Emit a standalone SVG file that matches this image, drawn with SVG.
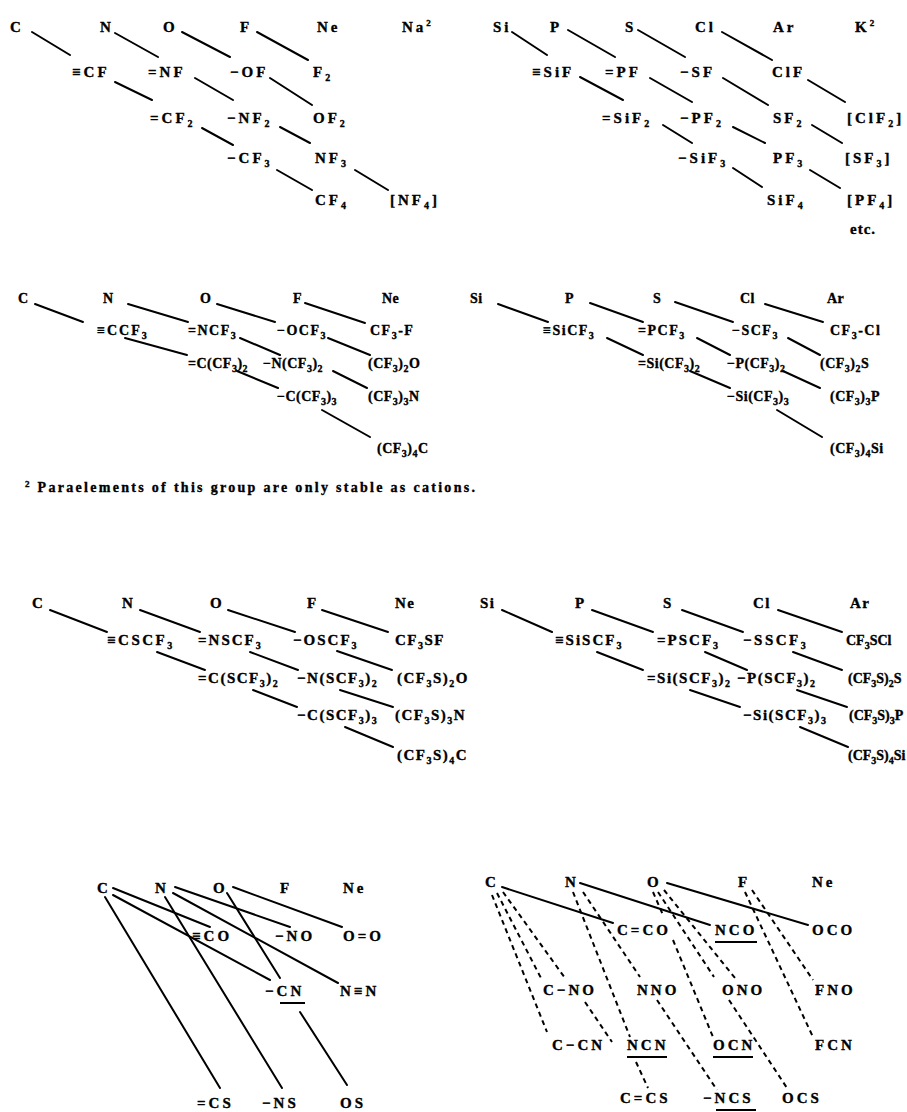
<svg xmlns="http://www.w3.org/2000/svg" width="907" height="1112" viewBox="0 0 907 1112">
<style>
text{font-family:"Liberation Serif","DejaVu Serif",serif;font-weight:bold;fill:#000;stroke:#000;stroke-width:0.35px}
.t1{font-size:15px;letter-spacing:3px}
.t2{font-size:14px;letter-spacing:0.5px}
.t3{font-size:15px;letter-spacing:1.5px}
.t3n{font-size:14px;letter-spacing:0px}
.t4{font-size:15px;letter-spacing:3px}
.fn{font-size:14px}
.b{font-size:10px}
.p{font-size:9px}
.ln{stroke:#000;stroke-width:2;fill:none;stroke-linecap:round}
.ds{stroke:#000;stroke-width:2;fill:none;stroke-dasharray:5 4}
.ul{stroke:#000;stroke-width:2}
</style>
<rect width="907" height="1112" fill="#fff"/>

<g id="connectors">
<line class="ln" x1="32" y1="32" x2="70" y2="55"/>
<line class="ln" x1="115" y1="33" x2="158" y2="57"/>
<line class="ln" x1="182" y1="32" x2="230" y2="57"/>
<line class="ln" x1="257" y1="32" x2="308" y2="60"/>
<line class="ln" x1="115" y1="82" x2="152" y2="100"/>
<line class="ln" x1="195" y1="78" x2="233" y2="100"/>
<line class="ln" x1="270" y1="78" x2="312" y2="105"/>
<line class="ln" x1="202" y1="128" x2="233" y2="145"/>
<line class="ln" x1="280" y1="127" x2="310" y2="143"/>
<line class="ln" x1="277" y1="170" x2="312" y2="190"/>
<line class="ln" x1="355" y1="170" x2="388" y2="190"/>
<line class="ln" x1="512" y1="32" x2="547" y2="55"/>
<line class="ln" x1="568" y1="30" x2="615" y2="57"/>
<line class="ln" x1="638" y1="30" x2="685" y2="57"/>
<line class="ln" x1="722" y1="32" x2="772" y2="60"/>
<line class="ln" x1="580" y1="77" x2="623" y2="100"/>
<line class="ln" x1="650" y1="78" x2="692" y2="102"/>
<line class="ln" x1="723" y1="78" x2="768" y2="105"/>
<line class="ln" x1="808" y1="80" x2="845" y2="102"/>
<line class="ln" x1="663" y1="125" x2="692" y2="143"/>
<line class="ln" x1="733" y1="127" x2="765" y2="143"/>
<line class="ln" x1="812" y1="125" x2="842" y2="143"/>
<line class="ln" x1="733" y1="168" x2="762" y2="187"/>
<line class="ln" x1="810" y1="170" x2="840" y2="188"/>
<line class="ln" x1="35" y1="304" x2="83" y2="322"/>
<line class="ln" x1="128" y1="304" x2="188" y2="322"/>
<line class="ln" x1="217" y1="304" x2="275" y2="322"/>
<line class="ln" x1="305" y1="303" x2="365" y2="323"/>
<line class="ln" x1="125" y1="338" x2="187" y2="355"/>
<line class="ln" x1="240" y1="338" x2="280" y2="355"/>
<line class="ln" x1="328" y1="338" x2="370" y2="355"/>
<line class="ln" x1="237" y1="371" x2="278" y2="388"/>
<line class="ln" x1="333" y1="371" x2="367" y2="388"/>
<line class="ln" x1="322" y1="410" x2="370" y2="437"/>
<line class="ln" x1="498" y1="304" x2="548" y2="322"/>
<line class="ln" x1="590" y1="303" x2="643" y2="322"/>
<line class="ln" x1="675" y1="302" x2="733" y2="322"/>
<line class="ln" x1="765" y1="304" x2="823" y2="322"/>
<line class="ln" x1="607" y1="338" x2="643" y2="355"/>
<line class="ln" x1="697" y1="338" x2="730" y2="355"/>
<line class="ln" x1="788" y1="338" x2="820" y2="355"/>
<line class="ln" x1="690" y1="371" x2="730" y2="388"/>
<line class="ln" x1="783" y1="371" x2="820" y2="388"/>
<line class="ln" x1="777" y1="410" x2="822" y2="437"/>
<line class="ln" x1="50" y1="610" x2="107" y2="632"/>
<line class="ln" x1="140" y1="610" x2="200" y2="632"/>
<line class="ln" x1="228" y1="610" x2="295" y2="632"/>
<line class="ln" x1="322" y1="610" x2="388" y2="632"/>
<line class="ln" x1="157" y1="652" x2="205" y2="670"/>
<line class="ln" x1="250" y1="652" x2="298" y2="670"/>
<line class="ln" x1="337" y1="651" x2="392" y2="670"/>
<line class="ln" x1="253" y1="690" x2="297" y2="707"/>
<line class="ln" x1="340" y1="690" x2="393" y2="707"/>
<line class="ln" x1="345" y1="727" x2="393" y2="747"/>
<line class="ln" x1="502" y1="610" x2="552" y2="632"/>
<line class="ln" x1="592" y1="610" x2="653" y2="632"/>
<line class="ln" x1="682" y1="610" x2="743" y2="632"/>
<line class="ln" x1="778" y1="610" x2="842" y2="632"/>
<line class="ln" x1="597" y1="652" x2="643" y2="670"/>
<line class="ln" x1="705" y1="652" x2="747" y2="670"/>
<line class="ln" x1="793" y1="652" x2="842" y2="670"/>
<line class="ln" x1="690" y1="690" x2="740" y2="707"/>
<line class="ln" x1="797" y1="690" x2="847" y2="707"/>
<line class="ln" x1="800" y1="727" x2="848" y2="747"/>
<line class="ln" x1="113" y1="888" x2="210" y2="927"/>
<line class="ln" x1="113" y1="895" x2="270" y2="980"/>
<line class="ln" x1="105" y1="897" x2="220" y2="1088"/>
<line class="ln" x1="175" y1="887" x2="290" y2="927"/>
<line class="ln" x1="173" y1="893" x2="338" y2="983"/>
<line class="ln" x1="165" y1="897" x2="282" y2="1088"/>
<line class="ln" x1="227" y1="893" x2="280" y2="978"/>
<line class="ln" x1="233" y1="887" x2="342" y2="927"/>
<line class="ln" x1="300" y1="1012" x2="347" y2="1085"/>
<line class="ln" x1="502" y1="887" x2="613" y2="923"/>
<line class="ln" x1="580" y1="883" x2="710" y2="925"/>
<line class="ln" x1="667" y1="883" x2="808" y2="925"/>
<line class="ds" x1="492" y1="895" x2="547" y2="1032"/>
<line class="ds" x1="497" y1="893" x2="542" y2="980"/>
<line class="ds" x1="503" y1="892" x2="565" y2="978"/>
<line class="ds" x1="585" y1="1002" x2="612" y2="1042"/>
<line class="ds" x1="573" y1="892" x2="630" y2="1037"/>
<line class="ds" x1="636" y1="1062" x2="648" y2="1088"/>
<line class="ds" x1="583" y1="892" x2="640" y2="977"/>
<line class="ds" x1="657" y1="1000" x2="717" y2="1090"/>
<line class="ds" x1="653" y1="892" x2="663" y2="915"/>
<line class="ds" x1="673" y1="940" x2="713" y2="1037"/>
<line class="ds" x1="658" y1="892" x2="714" y2="977"/>
<line class="ds" x1="729" y1="1000" x2="787" y2="1088"/>
<line class="ds" x1="664" y1="890" x2="735" y2="978"/>
<line class="ds" x1="752" y1="890" x2="813" y2="980"/>
<line class="ds" x1="745" y1="892" x2="813" y2="1037"/>
</g>

<g id="b1-C"><text class="t1" x="10" y="32">C</text></g>
<g id="b1-N"><text class="t1" x="100" y="32">N</text></g>
<g id="b1-O"><text class="t1" x="163" y="32">O</text></g>
<g id="b1-F"><text class="t1" x="240" y="32">F</text></g>
<g id="b1-Ne"><text class="t1" x="317" y="32">Ne</text></g>
<g id="b1-Na"><text class="t1" x="402" y="32">Na<tspan class="p" dy="-6">2</tspan></text></g>
<g id="b1-CF"><text class="t1" x="72" y="77">≡CF</text></g>
<g id="b1-NF"><text class="t1" x="148" y="77">=NF</text></g>
<g id="b1-OF"><text class="t1" x="230" y="77">−OF</text></g>
<g id="b1-F2"><text class="t1" x="313" y="77">F<tspan class="b" dy="4">2</tspan></text></g>
<g id="b1-CF2"><text class="t1" x="150" y="123">=CF<tspan class="b" dy="4">2</tspan></text></g>
<g id="b1-NF2"><text class="t1" x="227" y="123">−NF<tspan class="b" dy="4">2</tspan></text></g>
<g id="b1-OF2"><text class="t1" x="313" y="123">OF<tspan class="b" dy="4">2</tspan></text></g>
<g id="b1-CF3"><text class="t1" x="227" y="163">−CF<tspan class="b" dy="4">3</tspan></text></g>
<g id="b1-NF3"><text class="t1" x="315" y="163">NF<tspan class="b" dy="4">3</tspan></text></g>
<g id="b1-CF4"><text class="t1" x="315" y="205">CF<tspan class="b" dy="4">4</tspan></text></g>
<g id="b1-NF4"><text class="t1" x="390" y="205">[NF<tspan class="b" dy="4">4</tspan><tspan dy="-4">]</tspan></text></g>

<g id="b1-Si"><text class="t1" x="493" y="32">Si</text></g>
<g id="b1-P"><text class="t1" x="550" y="32">P</text></g>
<g id="b1-S"><text class="t1" x="625" y="32">S</text></g>
<g id="b1-Cl"><text class="t1" x="695" y="32">Cl</text></g>
<g id="b1-Ar"><text class="t1" x="773" y="32">Ar</text></g>
<g id="b1-K"><text class="t1" x="855" y="32">K<tspan class="p" dy="-6">2</tspan></text></g>
<g id="b1-SiF"><text class="t1" x="532" y="77">≡SiF</text></g>
<g id="b1-PF"><text class="t1" x="605" y="77">=PF</text></g>
<g id="b1-SF"><text class="t1" x="680" y="77">−SF</text></g>
<g id="b1-ClF"><text class="t1" x="772" y="77">ClF</text></g>
<g id="b1-SiF2"><text class="t1" x="602" y="123">=SiF<tspan class="b" dy="4">2</tspan></text></g>
<g id="b1-PF2"><text class="t1" x="680" y="123">−PF<tspan class="b" dy="4">2</tspan></text></g>
<g id="b1-SF2"><text class="t1" x="773" y="123">SF<tspan class="b" dy="4">2</tspan></text></g>
<g id="b1-ClF2"><text class="t1" x="847" y="123">[ClF<tspan class="b" dy="4">2</tspan><tspan dy="-4">]</tspan></text></g>
<g id="b1-SiF3"><text class="t1" x="678" y="163">−SiF<tspan class="b" dy="4">3</tspan></text></g>
<g id="b1-PF3"><text class="t1" x="773" y="163">PF<tspan class="b" dy="4">3</tspan></text></g>
<g id="b1-SF3"><text class="t1" x="845" y="163">[SF<tspan class="b" dy="4">3</tspan><tspan dy="-4">]</tspan></text></g>
<g id="b1-SiF4"><text class="t1" x="767" y="205">SiF<tspan class="b" dy="4">4</tspan></text></g>
<g id="b1-PF4"><text class="t1" x="847" y="205">[PF<tspan class="b" dy="4">4</tspan><tspan dy="-4">]</tspan></text></g>
<g id="b1-etc"><text class="t1" x="850" y="234" style="letter-spacing:1px">etc.</text></g>

<g id="b2-C"><text class="t2" x="18" y="303">C</text></g>
<g id="b2-N"><text class="t2" x="103" y="303">N</text></g>
<g id="b2-O"><text class="t2" x="200" y="303">O</text></g>
<g id="b2-F"><text class="t2" x="293" y="303">F</text></g>
<g id="b2-Ne"><text class="t2" x="382" y="303">Ne</text></g>
<g id="b2-CCF3"><text class="t2" x="97" y="335" style="letter-spacing:2px">≡CCF<tspan class="b" dy="4">3</tspan></text></g>
<g id="b2-NCF3"><text class="t2" x="188" y="335" style="letter-spacing:1.5px">=NCF<tspan class="b" dy="4">3</tspan></text></g>
<g id="b2-OCF3"><text class="t2" x="277" y="335" style="letter-spacing:1.5px">−OCF<tspan class="b" dy="4">3</tspan></text></g>
<g id="b2-CF3F"><text class="t2" x="370" y="335" style="letter-spacing:1.5px">CF<tspan class="b" dy="4">3</tspan><tspan dy="-4">-F</tspan></text></g>
<g id="b2-CCF32"><text class="t2" x="188" y="368">=C(CF<tspan class="b" dy="4">3</tspan><tspan dy="-4">)</tspan><tspan class="b" dy="4">2</tspan></text></g>
<g id="b2-NCF32"><text class="t2" x="263" y="368">−N(CF<tspan class="b" dy="4">3</tspan><tspan dy="-4">)</tspan><tspan class="b" dy="4">2</tspan></text></g>
<g id="b2-CF32O"><text class="t2" x="368" y="368">(CF<tspan class="b" dy="4">3</tspan><tspan dy="-4">)</tspan><tspan class="b" dy="4">2</tspan><tspan dy="-4">O</tspan></text></g>
<g id="b2-CCF33"><text class="t2" x="277" y="401">−C(CF<tspan class="b" dy="4">3</tspan><tspan dy="-4">)</tspan><tspan class="b" dy="4">3</tspan></text></g>
<g id="b2-CF33N"><text class="t2" x="368" y="401">(CF<tspan class="b" dy="4">3</tspan><tspan dy="-4">)</tspan><tspan class="b" dy="4">3</tspan><tspan dy="-4">N</tspan></text></g>
<g id="b2-CF34C"><text class="t2" x="377" y="453">(CF<tspan class="b" dy="4">3</tspan><tspan dy="-4">)</tspan><tspan class="b" dy="4">4</tspan><tspan dy="-4">C</tspan></text></g>

<g id="b2-Si"><text class="t2" x="470" y="303">Si</text></g>
<g id="b2-P"><text class="t2" x="565" y="303">P</text></g>
<g id="b2-S"><text class="t2" x="653" y="303">S</text></g>
<g id="b2-Cl"><text class="t2" x="740" y="303">Cl</text></g>
<g id="b2-Ar"><text class="t2" x="827" y="303">Ar</text></g>
<g id="b2-SiCF3"><text class="t2" x="543" y="335" style="letter-spacing:1.5px">≡SiCF<tspan class="b" dy="4">3</tspan></text></g>
<g id="b2-PCF3"><text class="t2" x="638" y="335" style="letter-spacing:1.5px">=PCF<tspan class="b" dy="4">3</tspan></text></g>
<g id="b2-SCF3"><text class="t2" x="732" y="335" style="letter-spacing:1.5px">−SCF<tspan class="b" dy="4">3</tspan></text></g>
<g id="b2-CF3Cl"><text class="t2" x="830" y="335" style="letter-spacing:1.5px">CF<tspan class="b" dy="4">3</tspan><tspan dy="-4">-Cl</tspan></text></g>
<g id="b2-SiCF32"><text class="t2" x="638" y="368">=Si(CF<tspan class="b" dy="4">3</tspan><tspan dy="-4">)</tspan><tspan class="b" dy="4">2</tspan></text></g>
<g id="b2-PCF32"><text class="t2" x="727" y="368">−P(CF<tspan class="b" dy="4">3</tspan><tspan dy="-4">)</tspan><tspan class="b" dy="4">2</tspan></text></g>
<g id="b2-CF32S"><text class="t2" x="820" y="368">(CF<tspan class="b" dy="4">3</tspan><tspan dy="-4">)</tspan><tspan class="b" dy="4">2</tspan><tspan dy="-4">S</tspan></text></g>
<g id="b2-SiCF33"><text class="t2" x="727" y="401">−Si(CF<tspan class="b" dy="4">3</tspan><tspan dy="-4">)</tspan><tspan class="b" dy="4">3</tspan></text></g>
<g id="b2-CF33P"><text class="t2" x="830" y="401">(CF<tspan class="b" dy="4">3</tspan><tspan dy="-4">)</tspan><tspan class="b" dy="4">3</tspan><tspan dy="-4">P</tspan></text></g>
<g id="b2-CF34Si"><text class="t2" x="830" y="453">(CF<tspan class="b" dy="4">3</tspan><tspan dy="-4">)</tspan><tspan class="b" dy="4">4</tspan><tspan dy="-4">Si</tspan></text></g>

<g id="footnote"><text class="fn" x="25" y="492" textLength="450" lengthAdjust="spacing"><tspan class="p" dy="-5">2</tspan><tspan dy="5"> Paraelements of this group are only stable as cations.</tspan></text></g>

<g id="b3-C"><text class="t3" x="32" y="608">C</text></g>
<g id="b3-N"><text class="t3" x="122" y="608">N</text></g>
<g id="b3-O"><text class="t3" x="210" y="608">O</text></g>
<g id="b3-F"><text class="t3" x="307" y="608">F</text></g>
<g id="b3-Ne"><text class="t3" x="395" y="608">Ne</text></g>
<g id="b3-CSCF3"><text class="t3" x="107" y="645" style="letter-spacing:2.5px">≡CSCF<tspan class="b" dy="4">3</tspan></text></g>
<g id="b3-NSCF3"><text class="t3" x="198" y="645" style="letter-spacing:2px">=NSCF<tspan class="b" dy="4">3</tspan></text></g>
<g id="b3-OSCF3"><text class="t3" x="293" y="645" style="letter-spacing:2px">−OSCF<tspan class="b" dy="4">3</tspan></text></g>
<g id="b3-CF3SF"><text class="t3" x="395" y="645">CF<tspan class="b" dy="4">3</tspan><tspan dy="-4">SF</tspan></text></g>
<g id="b3-CSCF32"><text class="t3" x="198" y="683">=C(SCF<tspan class="b" dy="4">3</tspan><tspan dy="-4">)</tspan><tspan class="b" dy="4">2</tspan></text></g>
<g id="b3-NSCF32"><text class="t3" x="297" y="683">−N(SCF<tspan class="b" dy="4">3</tspan><tspan dy="-4">)</tspan><tspan class="b" dy="4">2</tspan></text></g>
<g id="b3-CF3S2O"><text class="t3" x="397" y="683">(CF<tspan class="b" dy="4">3</tspan><tspan dy="-4">S)</tspan><tspan class="b" dy="4">2</tspan><tspan dy="-4">O</tspan></text></g>
<g id="b3-CSCF33"><text class="t3" x="297" y="720">−C(SCF<tspan class="b" dy="4">3</tspan><tspan dy="-4">)</tspan><tspan class="b" dy="4">3</tspan></text></g>
<g id="b3-CF3S3N"><text class="t3" x="395" y="720">(CF<tspan class="b" dy="4">3</tspan><tspan dy="-4">S)</tspan><tspan class="b" dy="4">3</tspan><tspan dy="-4">N</tspan></text></g>
<g id="b3-CF3S4C"><text class="t3" x="397" y="760">(CF<tspan class="b" dy="4">3</tspan><tspan dy="-4">S)</tspan><tspan class="b" dy="4">4</tspan><tspan dy="-4">C</tspan></text></g>

<g id="b3-Si"><text class="t3" x="480" y="608">Si</text></g>
<g id="b3-P"><text class="t3" x="575" y="608">P</text></g>
<g id="b3-S"><text class="t3" x="663" y="608">S</text></g>
<g id="b3-Cl"><text class="t3" x="753" y="608">Cl</text></g>
<g id="b3-Ar"><text class="t3" x="850" y="608">Ar</text></g>
<g id="b3-SiSCF3"><text class="t3" x="555" y="645" style="letter-spacing:2px">≡SiSCF<tspan class="b" dy="4">3</tspan></text></g>
<g id="b3-PSCF3"><text class="t3" x="657" y="645" style="letter-spacing:2px">=PSCF<tspan class="b" dy="4">3</tspan></text></g>
<g id="b3-SSCF3"><text class="t3" x="743" y="645" style="letter-spacing:2.5px">−SSCF<tspan class="b" dy="4">3</tspan></text></g>
<g id="b3-CF3SCl"><text class="t3n" x="846" y="645">CF<tspan class="b" dy="4">3</tspan><tspan dy="-4">SCl</tspan></text></g>
<g id="b3-SiSCF32"><text class="t3" x="647" y="683">=Si(SCF<tspan class="b" dy="4">3</tspan><tspan dy="-4">)</tspan><tspan class="b" dy="4">2</tspan></text></g>
<g id="b3-PSCF32"><text class="t3" x="737" y="683">−P(SCF<tspan class="b" dy="4">3</tspan><tspan dy="-4">)</tspan><tspan class="b" dy="4">2</tspan></text></g>
<g id="b3-CF3S2S"><text class="t3n" x="848" y="683">(CF<tspan class="b" dy="4">3</tspan><tspan dy="-4">S)</tspan><tspan class="b" dy="4">2</tspan><tspan dy="-4">S</tspan></text></g>
<g id="b3-SiSCF33"><text class="t3" x="743" y="720">−Si(SCF<tspan class="b" dy="4">3</tspan><tspan dy="-4">)</tspan><tspan class="b" dy="4">3</tspan></text></g>
<g id="b3-CF3S3P"><text class="t3n" x="849" y="720">(CF<tspan class="b" dy="4">3</tspan><tspan dy="-4">S)</tspan><tspan class="b" dy="4">3</tspan><tspan dy="-4">P</tspan></text></g>
<g id="b3-CF3S4Si"><text class="t3n" x="848" y="760">(CF<tspan class="b" dy="4">3</tspan><tspan dy="-4">S)</tspan><tspan class="b" dy="4">4</tspan><tspan dy="-4">Si</tspan></text></g>

<g id="b4-C"><text class="t4" x="97" y="893">C</text></g>
<g id="b4-N"><text class="t4" x="155" y="893">N</text></g>
<g id="b4-O"><text class="t4" x="213" y="893">O</text></g>
<g id="b4-F"><text class="t4" x="280" y="893">F</text></g>
<g id="b4-Ne"><text class="t4" x="343" y="893">Ne</text></g>
<g id="b4-CO"><text class="t4" x="192" y="941">≡CO</text></g>
<g id="b4-NO"><text class="t4" x="275" y="941">−NO</text></g>
<g id="b4-OO"><text class="t4" x="343" y="941">O=O</text></g>
<g id="b4-CN"><text class="t4" x="265" y="996">−CN</text><line class="ul" x1="280" y1="1003" x2="305" y2="1003"/></g>
<g id="b4-NN"><text class="t4" x="340" y="996">N≡N</text></g>
<g id="b4-CS"><text class="t4" x="197" y="1108">=CS</text></g>
<g id="b4-NS"><text class="t4" x="262" y="1108">−NS</text></g>
<g id="b4-OS"><text class="t4" x="340" y="1108">OS</text></g>

<g id="b4r-C"><text class="t4" x="485" y="887">C</text></g>
<g id="b4r-N"><text class="t4" x="565" y="887">N</text></g>
<g id="b4r-O"><text class="t4" x="647" y="887">O</text></g>
<g id="b4r-F"><text class="t4" x="738" y="887">F</text></g>
<g id="b4r-Ne"><text class="t4" x="812" y="887">Ne</text></g>
<g id="b4r-CCO"><text class="t4" x="617" y="935">C=CO</text></g>
<g id="b4r-NCO"><text class="t4" x="715" y="935">NCO</text><line class="ul" x1="715" y1="942" x2="757" y2="942"/></g>
<g id="b4r-OCO"><text class="t4" x="812" y="935">OCO</text></g>
<g id="b4r-CNO"><text class="t4" x="543" y="995">C−NO</text></g>
<g id="b4r-NNO"><text class="t4" x="637" y="995">NNO</text></g>
<g id="b4r-ONO"><text class="t4" x="722" y="995">ONO</text></g>
<g id="b4r-FNO"><text class="t4" x="815" y="995">FNO</text></g>
<g id="b4r-CCN"><text class="t4" x="552" y="1050">C−CN</text></g>
<g id="b4r-NCN"><text class="t4" x="627" y="1050">NCN</text><line class="ul" x1="627" y1="1057" x2="667" y2="1057"/></g>
<g id="b4r-OCN"><text class="t4" x="713" y="1050">OCN</text><line class="ul" x1="713" y1="1057" x2="753" y2="1057"/></g>
<g id="b4r-FCN"><text class="t4" x="815" y="1050">FCN</text></g>
<g id="b4r-CCS"><text class="t4" x="620" y="1103">C=CS</text></g>
<g id="b4r-NCS"><text class="t4" x="703" y="1103">−NCS</text><line class="ul" x1="716" y1="1110" x2="756" y2="1110"/></g>
<g id="b4r-OCS"><text class="t4" x="782" y="1103">OCS</text></g>
</svg>
